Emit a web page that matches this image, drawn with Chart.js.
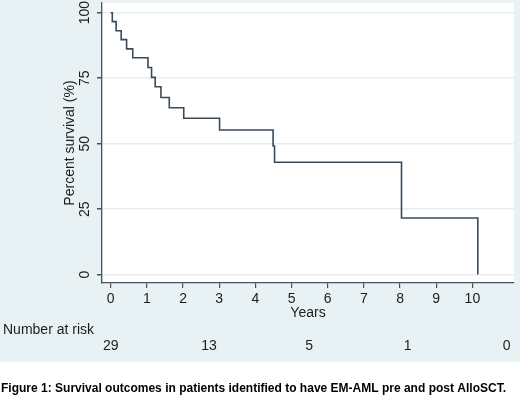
<!DOCTYPE html>
<html>
<head>
<meta charset="utf-8">
<script src="https://cdn.jsdelivr.net/npm/chart.js@4.4.1/dist/chart.umd.min.js"></script>
<style>
  html, body { margin: 0; padding: 0; background: #ffffff; }
  #wrap { width: 520px; height: 396px; position: relative; }
</style>
</head>
<body>
<div id="wrap"><canvas id="c" width="520" height="396"></canvas></div>
<script>
// Kaplan-Meier step curve (years, percent surviving after each step)
const years    = [0, 0.045, 0.15, 0.29, 0.44, 0.61, 1.03, 1.13, 1.23, 1.39, 1.62, 2.02, 3.01, 4.49, 4.53, 8.04, 10.15];
const survival = [100, 96.6, 93.1, 89.7, 86.2, 82.8, 79.1, 75.3, 71.7, 67.6, 63.7, 59.7, 55.2, 49.1, 42.9, 21.6, 0];
// Axis ticks
const xTicks = [0, 1, 2, 3, 4, 5, 6, 7, 8, 9, 10];
const yTicks = [0, 25, 50, 75, 100];
// Number at risk table
const riskTimes  = [0, 2.72, 5.49, 8.21, 10.95];
const riskCounts = ['29', '13', '5', '1', '0'];
const captionText = 'Figure 1: Survival outcomes in patients identified to have EM-AML pre and post AlloSCT.';

const FONT = '"Liberation Sans", Arial, Helvetica, sans-serif';
const BG = '#e8f2f4';
const AXIS = '#4a4f55';
const GRID = '#e6eef0';
const TEXT = '#1c1c1c';

const bgPlugin = {
  id: 'bg',
  beforeDraw(chart) {
    const ctx = chart.ctx, a = chart.chartArea;
    ctx.save();
    ctx.fillStyle = '#ffffff';
    ctx.fillRect(0, 0, chart.width, chart.height);
    ctx.fillStyle = BG;
    ctx.fillRect(0, 0, chart.width, 362);
    ctx.fillStyle = '#ffffff';
    ctx.fillRect(a.left, a.top, a.right - a.left, a.bottom - a.top);
    ctx.restore();
  },
  afterDraw(chart) {
    const ctx = chart.ctx, xs = chart.scales.x, ys = chart.scales.y;
    ctx.save();
    ctx.fillStyle = TEXT;
    ctx.font = '14px ' + FONT;
    // rotated y tick labels, centred on their ticks
    ctx.textAlign = 'center';
    ctx.textBaseline = 'middle';
    yTicks.forEach(v => {
      ctx.save();
      ctx.translate(ys.left + 85, ys.getPixelForValue(v));
      ctx.rotate(-Math.PI / 2);
      ctx.fillText(String(v), 0, 0);
      ctx.restore();
    });
    ctx.textAlign = 'left';
    ctx.fillText('Number at risk', 3, 330);
    ctx.textAlign = 'center';
    riskTimes.forEach((t, i) => {
      ctx.fillText(riskCounts[i], xs.getPixelForValue(t), 346);
    });
    // caption
    ctx.font = 'bold 12.5px ' + FONT;
    ctx.textAlign = 'left';
    ctx.fillStyle = '#000000';
    const w = ctx.measureText(captionText).width;
    const target = 505;
    ctx.translate(1, 389);
    ctx.scale(target / w, 1);
    ctx.fillText(captionText, 0, 0);
    ctx.restore();
  }
};

new Chart(document.getElementById('c'), {
  type: 'scatter',
  data: {
    datasets: [{
      data: years.map((t, i) => ({ x: t, y: survival[i] })),
      showLine: true,
      stepped: 'before',
      borderColor: '#3b4a59',
      borderWidth: 1.6,
      pointRadius: 0,
      fill: false
    }]
  },
  options: {
    responsive: false,
    animation: false,
    devicePixelRatio: 1,
    layout: { padding: { left: 0, top: 3, right: 6, bottom: 75 } },
    plugins: { legend: { display: false }, tooltip: { enabled: false } },
    scales: {
      x: {
        type: 'linear',
        min: -0.24,
        max: 11.15,
        afterBuildTicks: s => { s.ticks = xTicks.map(v => ({ value: v })); },
        afterFit: s => { s.height = 38; },
        border: { display: true, color: AXIS, width: 1.3 },
        grid: { drawOnChartArea: false, drawTicks: true, tickLength: 5, tickColor: AXIS, lineWidth: 1.2 },
        ticks: { padding: 3, color: TEXT, font: { family: FONT, size: 14 }, maxRotation: 0, minRotation: 0 },
        title: { display: true, text: 'Years', color: TEXT, font: { family: FONT, size: 14 }, padding: { top: 0, bottom: -1 } }
      },
      y: {
        type: 'linear',
        min: -3.2,
        max: 103.7,
        afterBuildTicks: s => { s.ticks = yTicks.map(v => ({ value: v })); },
        afterFit: s => { s.width = 102; },
        border: { display: true, color: AXIS, width: 1.3 },
        grid: { color: GRID, lineWidth: 1.5, drawTicks: true, tickLength: 5, tickColor: AXIS },
        ticks: { display: false },
        title: { display: true, text: 'Percent survival (%)', color: TEXT, font: { family: FONT, size: 14 }, padding: { top: 62, bottom: 0 } }
      }
    }
  },
  plugins: [bgPlugin]
});
</script>
</body>
</html>
